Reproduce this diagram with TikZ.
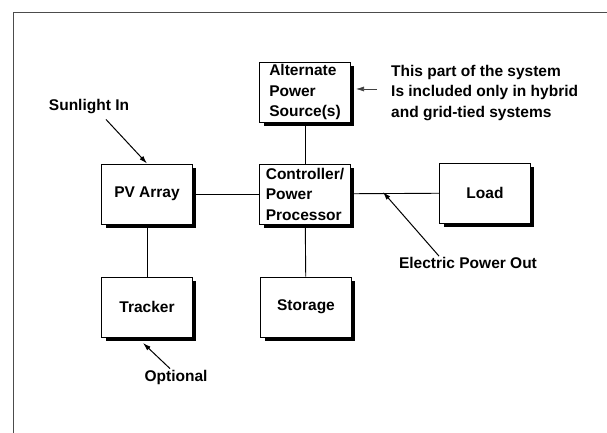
\documentclass[tikz,border=0pt]{standalone}
\usepackage{fontspec}
\setmainfont{Liberation Sans}
\usetikzlibrary{arrows.meta}

\tikzset{
  unit/.style={draw, line width=0.9pt, fill=white, minimum width=91pt, minimum height=60pt,
    inner sep=2pt, align=left, font=\bfseries\fontsize{15.5}{20.5}\selectfont},
  tag/.style={font=\bfseries\fontsize{15.5}{20.5}\selectfont, align=left, inner sep=1pt},
  pointer/.style={-{Latex[length=8pt,width=5pt]}, line width=1pt},
  link/.style={line width=0.9pt}
}

\begin{document}
\begin{tikzpicture}[x=1pt, y=-1pt]
  \useasboundingbox (0,0) rectangle (607,433);
  % page frame
  \draw[black!70, line width=0.8pt] (607,12) -- (13,12) -- (13,433);

  % system blocks
  \node[unit] (alt) at (305,92) {Alternate\\Power\\Source(s)};
  \node[unit] (ctrl) at (305,194) {Controller/\\Power\\Processor};
  \node[unit] (pv) at (147,194) {PV Array};
  \node[unit] (load) at (485,193) {Load};
  \node[unit] (tracker) at (147,307) {Tracker};
  \node[unit] (storage) at (306,307) {Storage};

  % shadows on right and bottom
  \draw[line width=3.5pt] (352.7,66) -- (352.7,124.2) -- (263.5,124.2);
  \draw[line width=3.5pt] (352.7,168) -- (352.7,226.2) -- (263.5,226.2);
  \draw[line width=3.5pt] (194.7,168) -- (194.7,226.2) -- (105.5,226.2);
  \draw[line width=3.5pt] (532.7,167) -- (532.7,225.2) -- (443.5,225.2);
  \draw[line width=3.5pt] (194.7,281) -- (194.7,339.2) -- (105.5,339.2);
  \draw[line width=3.5pt] (353.7,281) -- (353.7,339.2) -- (264.5,339.2);

  % links
  \draw[link] (alt) -- (ctrl);
  \draw[link] (pv) -- (ctrl);
  \draw[link] (ctrl) -- (load);
  \draw[link] (pv) -- (tracker);
  \draw[link] (ctrl) -- (storage);

  % labels
  \node[tag] (sun) at (89,107) {Sunlight In};
  \node[tag] (opt) at (176,377) {Optional};
  \node[tag] (out) at (468,263) {Electric Power Out};
  \node[tag, anchor=west] (note) at (390,93) {This part of the system\\Is included only in hybrid\\and grid-tied systems};

  \coordinate (trk-tip) at (143,343);
  \coordinate (out-tip) at (383,192);
  \coordinate (alt-tip) at (356,89);

  \draw[pointer] ([xshift=17pt,yshift=-4pt]sun.south) -- (pv.north);
  \draw[pointer] ([xshift=-6pt]opt.north) -- (trk-tip);
  \draw[pointer] ([xshift=-29pt]out.north) -- (out-tip);
  \draw[pointer, line width=0.6pt, black!75] ([xshift=-13pt,yshift=4pt]note.west) -- (alt-tip);
\end{tikzpicture}
\end{document}
